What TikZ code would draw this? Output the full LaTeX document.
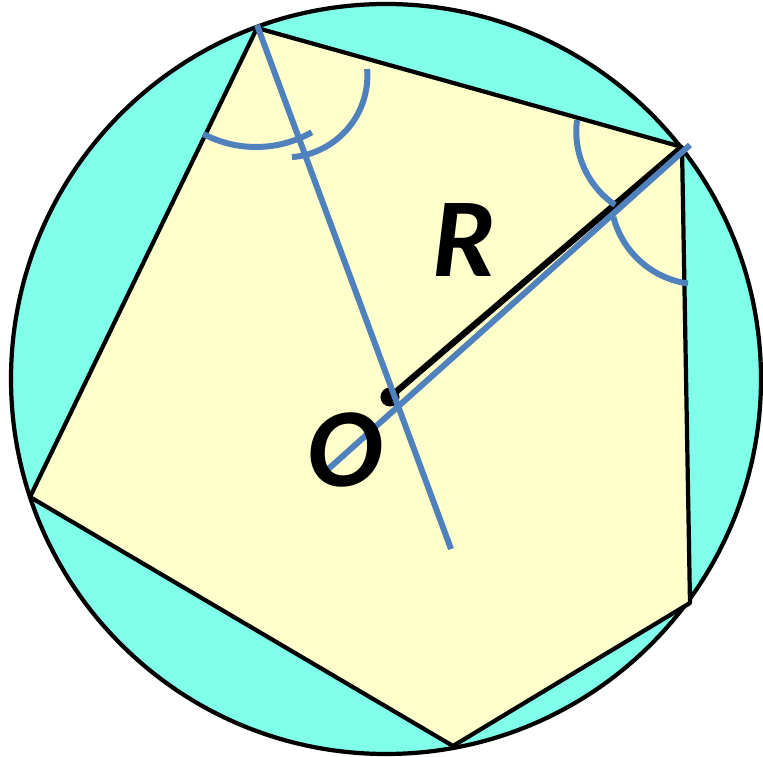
\documentclass[tikz,border=0pt]{standalone}
\usepackage{fontspec}
\setmainfont{Carlito}
\usepackage{tikz}
\usetikzlibrary{calc}
\definecolor{ringfill}{RGB}{128,255,234}
\definecolor{pentfill}{RGB}{255,255,204}
\definecolor{markblue}{RGB}{79,129,189}
\tikzset{%
  outline/.style={draw=black, line width=1.2pt, line join=round},
  bisector/.style={draw=markblue, line width=1.7pt},
  letter/.style={font=\fontsize{32}{36}\selectfont\bfseries\itshape, inner sep=0pt}%
}

\begin{document}
\begin{tikzpicture}[
    x=0.01cm,
    y=0.01cm,
    dot/.style={circle, fill=black, inner sep=0pt, minimum size=0.19cm}
]
\useasboundingbox (0,0) rectangle (763,757);

% Circle and pentagon
\coordinate (centre) at (386,378);
\coordinate (A) at (257,729);
\coordinate (B) at (682,610);
\coordinate (C) at (690,154);
\coordinate (D) at (453,11);
\coordinate (E) at (30,260);
\filldraw[outline, fill=ringfill] (centre) circle[radius=375];
\filldraw[outline, fill=pentfill] (A) -- (B) -- (C) -- (D) -- (E) -- cycle;

% Radius
\node[dot] (O) at (390,360) {};
\draw[line width=1.8pt] (O.center) -- (B);

% Bisectors
\coordinate (a1) at (257,732);
\coordinate (a2) at (451,208);
\coordinate (b1) at (325,285);
\coordinate (b2) at (690,612);
\draw[bisector] (a1) -- (a2);
\draw[bisector] (b1) -- (b2);

% Arc marks
\draw[bisector] ($(256,723)+(242.1:113)$) arc[start angle=242.1, end angle=299.6, radius=113];
\draw[bisector] ($(285.4,681.6)+(4.5:82)$) arc[start angle=4.5, end angle=-85.4, radius=82];
\draw[bisector] ($(665.3,625.5)+(172.6:89)$) arc[start angle=172.6, end angle=235.6, radius=89];
\draw[bisector] ($(700.5,562.6)+(194.5:90)$) arc[start angle=194.5, end angle=262, radius=90];

% Labels
\node[letter] (labelO) at (345,307) {O};
\node[letter] (labelR) at (464,517) {R};

\end{tikzpicture}
\end{document}
